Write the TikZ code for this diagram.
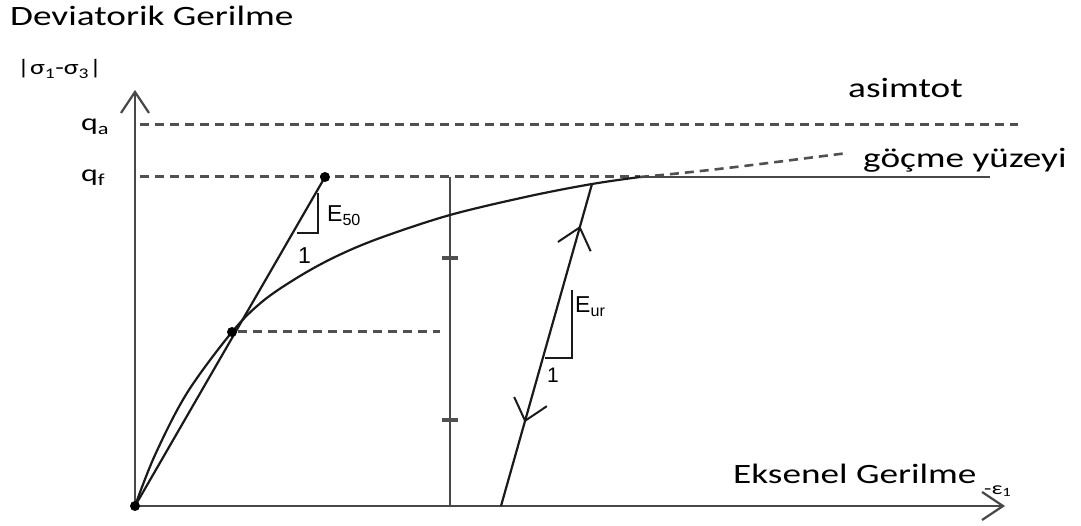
\documentclass[tikz,border=0pt]{standalone}
\usepackage{fontspec}
\newfontfamily\calfont[FakeStretch=1.33]{Carlito}
\newfontfamily\arfont{Liberation Sans}
\usetikzlibrary{arrows.meta,decorations.markings}
\definecolor{axisgray}{HTML}{484848}
\definecolor{dashgray}{HTML}{505050}
\definecolor{inkblack}{HTML}{1A1A1A}
\tikzset{
  axisline/.style={draw=axisgray,line width=2.6pt,-{Straight Barb[length=21pt,width=28pt,line width=2.2pt]}},
  dashline/.style={draw=dashgray,line width=3pt,dash pattern=on 9pt off 6pt},
  thinline/.style={draw=inkblack,line width=2.2pt},
  greyline/.style={draw=axisgray,line width=2.2pt},
  tickmark/.style={draw=dashgray,line width=4.5pt},
  dotmark/.style={fill=black},
  caltext/.style={inner sep=0pt,anchor=base west,text=black,font=\calfont\fontsize{28}{30}\selectfont},
  calsmall/.style={inner sep=0pt,anchor=base west,text=black,font=\calfont\fontsize{21}{23}\selectfont},
  artext/.style={inner sep=0pt,anchor=base west,text=black,font=\arfont\fontsize{23}{25}\selectfont},
  midbarb/.tip={Straight Barb[length=20pt,width=34pt,line width=2pt]},
}
\begin{document}
\begin{tikzpicture}[x=1pt,y=-1pt]
\useasboundingbox (0,0) rectangle (1081,526);
% key points
\coordinate (O) at (135,506);
\coordinate (Ytip) at (135,90);
\coordinate (Xtip) at (1005,506);
\coordinate (P50) at (232,332);
\coordinate (PF) at (325,177);
\coordinate (Cend) at (640,177);
\coordinate (Hend) at (990,177);
\coordinate (Aend) at (848,153);
\coordinate (QaL) at (140,125);
\coordinate (QaR) at (1018,125);
\coordinate (QfL) at (140,177);
\coordinate (Vtop) at (450,177);
\coordinate (Vbot) at (450,506);
\coordinate (Hd50L) at (238,332);
\coordinate (Hd50R) at (440,332);
\coordinate (Ubot) at (501,506);
\coordinate (Utop) at (592,184);
% dashed lines
\draw[dashline] (QaL) -- (QaR);
\draw[dashline] (QfL) -- (Cend);
\draw[dashline] (Hd50L) -- (Hd50R);
\draw[dashline,line width=2.6pt] (Cend) .. controls (720,170) and (790,160) .. (Aend);
% axes
\draw[axisline] (O) -- (Ytip);
\draw[axisline] (O) -- (Xtip);
% vertical line with ticks
\draw[greyline] (Vtop) -- (Vbot);
\draw[tickmark] (442,258) -- (458,258);
\draw[tickmark] (442,420) -- (458,420);
% curve
\draw[thinline] plot[smooth,tension=0.55] coordinates {(135,506) (155,455) (187,393) (232,332) (263,301) (300,276) (337,256) (380,238) (450,215) (530,196) (592,184) (640,177)};
\draw[thinline,draw=axisgray,line width=2.8pt] (Cend) -- (Hend);
% secant E50
\draw[thinline] (O) -- (PF);
\draw[thinline] (318,193) -- (318,233) -- (297,233);
% unloading / reloading line
\draw[thinline,postaction={decorate},decoration={markings,
  mark=at position 0.87 with {\arrow{midbarb}},
  mark=at position 0.26 with {\arrowreversed{midbarb}}}]
  (Ubot) -- (Utop);
\draw[thinline] (572,290) -- (572,358) -- (545,358);
% dots
\fill[dotmark] (O) circle[radius=5pt];
\fill[dotmark] (P50) circle[radius=5pt];
\fill[dotmark] (PF) circle[radius=5pt];
% labels
\node[caltext] (tdev) at (10,26) {Deviatorik Gerilme};
\node[calsmall] (tsig) at (17,75) {|σ\textsubscript{1}-σ\textsubscript{3}|};
\node[calsmall,font=\calfont\fontsize{24}{26}\selectfont] (tqa) at (81,131) {q\textsubscript{a}};
\node[calsmall,font=\calfont\fontsize{24}{26}\selectfont] (tqf) at (81,182) {q\textsubscript{f}};
\node[caltext] (tasim) at (848,98) {asimtot};
\node[caltext] (tgoc) at (863,168) {göçme yüzeyi};
\node[caltext] (teks) at (733,483) {Eksenel Gerilme};
\node[calsmall,font=\calfont\fontsize{18}{20}\selectfont] (teps) at (984,494) {-ε\textsubscript{1}};
\node[artext] (te50) at (327,222) {E\textsubscript{50}};
\node[artext] (tone1) at (298,264) {1};
\node[artext] (teur) at (575,313) {E\textsubscript{ur}};
\node[artext,font=\arfont\fontsize{21}{23}\selectfont] (tone2) at (547,382) {1};
\end{tikzpicture}
\end{document}
